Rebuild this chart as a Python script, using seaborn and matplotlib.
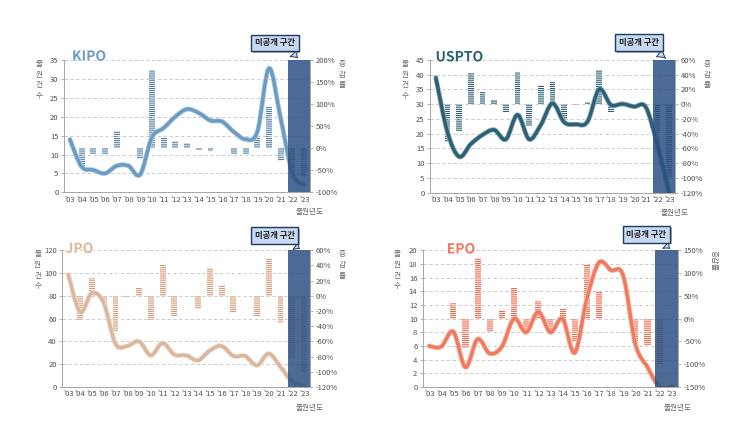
"""Patent filing counts and growth rates by office (KIPO / USPTO / JPO / EPO)."""
import matplotlib.pyplot as plt
import matplotlib.patheffects as pe
import numpy as np
import seaborn as sns
from matplotlib.path import Path
from matplotlib.patches import PathPatch

sns.set_theme(style="white")
plt.rcParams["font.family"] = ["Noto Sans CJK KR", "DejaVu Sans"]
plt.rcParams["hatch.linewidth"] = 0.8

YEARS = ["'03", "'04", "'05", "'06", "'07", "'08", "'09", "'10", "'11", "'12", "'13",
         "'14", "'15", "'16", "'17", "'18", "'19", "'20", "'21", "'22", "'23"]

# filing counts (left axis)
kipo_count = [14, 6.8, 5.9, 5.0, 7.0, 7.0, 4.7, 14.5, 17, 20, 22, 21, 19, 18.7, 16, 14, 16, 32.8, 19.5, 5, 2]
uspto_count = [39, 20.5, 12.2, 16.5, 19.6, 21.3, 18.1, 26.4, 18.1, 23, 30.3, 23.9, 23.2, 24.1, 35.1, 29.8, 30.1, 29.2, 29, 16, 0]
jpo_count = [98.6, 65.8, 82.5, 74, 38, 36, 40, 27.8, 38.6, 28.4, 27.8, 23.4, 32, 36, 27.2, 27.2, 19, 29.3, 17.6, 4.4, 1]
epo_count = [6.0, 5.9, 8.1, 2.9, 7.0, 4.9, 5.9, 10, 8.0, 11, 8, 10, 5, 12.9, 18.2, 17.1, 16.3, 6.3, 2.9, 0, 0.1]

# growth rate in % (right axis)
kipo_rate = [0, -46, -13, -13, 40, 0, -24, 178, 25, 17, 12, -3, -7, 0, -13, -13, 25, 94, -30, -67, -63]
uspto_rate = [0, -51, -36, 43, 16, 6, -11, 44, -29, 26, 30, -21, -1, 3, 47, -11, -1, -1, -1, -53, -99]
jpo_rate = [0, -32, 24, -10, -46, -2, 10, -32, 40, -26, 0, -17, 37, 14, -23, 0, -28, 50, -36, -82, -100]
epo_rate = [0, 0, 35, -64, 133, -29, 18, 67, -26, 38, -23, 22, -48, 118, 60, -1, -1, -53, -57, -99, 0]

PANELS = [
    dict(name="KIPO", count=kipo_count, rate=kipo_rate, left=(35, 5), right=(-100, 200, 50),
         line="#6a9bc3", glow="#b3cde2", bar="#4f7fa6", rect=[64, 60, 246, 132.3],
         title=(0.102, 1.025), box=(17.5, 1.13), tip=19.6, rot_label=False),
    dict(name="USPTO", count=uspto_count, rate=uspto_rate, left=(45, 5), right=(-120, 60, 20),
         line="#2d5f73", glow="#8fb0bd", bar="#2d5f73", rect=[430, 60, 245, 132.7],
         title=(0.12, 1.02), box=(17.4, 1.13), tip=19.9, rot_label=False),
    dict(name="JPO", count=jpo_count, rate=jpo_rate, left=(120, 20), right=(-120, 60, 20),
         line="#dbb79d", glow="#eedccf", bar="#d69c77", rect=[62.4, 250.3, 247.6, 136.7],
         title=(0.069, 1.01), box=(17.5, 1.108), tip=19.8, rot_label=False),
    dict(name="EPO", count=epo_count, rate=epo_rate, left=(20, 2), right=(-150, 150, 50),
         line="#ef7a5e", glow="#f8bfb1", bar="#f2694a", rect=[423, 250.3, 254.8, 136.7],
         title=(0.149, 1.006), box=(17.9, 1.116), tip=20.0, rot_label=True),
]

W, H = 755, 424
TICK_COLOR = "#505050"
LABEL_COLOR = "#6b6b6b"
SPINE_COLOR = "#a6a6a6"


def smooth_path(x, y):
    # Excel-style smoothed line drawn as cubic Bezier segments through the data points
    pts = np.column_stack([x, y]).astype(float)
    n = len(pts)
    verts, codes = [pts[0]], [Path.MOVETO]
    for i in range(n - 1):
        p0, p1 = pts[max(i - 1, 0)], pts[i]
        p2, p3 = pts[i + 1], pts[min(i + 2, n - 1)]
        verts += [p1 + (p2 - p0) / 6, p2 - (p3 - p1) / 6, p2]
        codes += [Path.CURVE4] * 3
    return Path(verts, codes)


fig = plt.figure(figsize=(W / 100, H / 100), dpi=100)

for p in PANELS:
    l, t, w, h = p["rect"]
    ax = fig.add_axes([l / W, 1 - (t + h) / H, w / W, h / H])
    ax2 = ax.twinx()

    # growth-rate bars, horizontal-stripe fill
    sns.barplot(x=YEARS, y=p["rate"], ax=ax2, color="white", width=0.5,
                edgecolor=p["bar"], linewidth=0, hatch="--------", saturation=1)
    lo, hi, step = p["right"]
    ax2.set_ylim(lo, hi)
    ax2.set_yticks(np.arange(lo, hi + 1, step))
    ax2.set_yticklabels([f"{v}%" for v in np.arange(lo, hi + 1, step)])
    ax2.set_ylabel("")

    ax.set_zorder(ax2.get_zorder() + 1)
    ax.patch.set_visible(False)

    # count line
    x = np.arange(len(YEARS))
    patch = PathPatch(smooth_path(x, p["count"]), fill=False, edgecolor=p["line"], lw=2.4,
                      capstyle="round", joinstyle="round", zorder=4,
                      path_effects=[pe.withStroke(linewidth=3.6, foreground=p["glow"])])
    ax.add_patch(patch)

    top, lstep = p["left"]
    ax.set_ylim(0, top)
    ax.set_yticks(np.arange(0, top + 0.1, lstep))
    ax.set_xlim(-0.5, len(YEARS) - 0.5)
    ax.set_xticks(x)
    ax.set_xticklabels(YEARS)
    ax.yaxis.grid(True, ls=(0, (4, 3)), color="#c4c4c4", lw=0.6)
    ax.set_axisbelow(True)

    # unpublished period
    ax.axvspan(18.6, 20.5, color="#2b5083", alpha=0.85, lw=0, zorder=6)

    for a in (ax, ax2):
        for s in a.spines.values():
            s.set_color(SPINE_COLOR)
            s.set_linewidth(0.7)
        a.spines["top"].set_visible(False)
        a.tick_params(labelsize=5.5, labelcolor=TICK_COLOR, color=SPINE_COLOR,
                      length=2.5, width=0.6, pad=1.5)
    ax.spines["right"].set_visible(False)
    ax2.spines["left"].set_visible(False)
    ax2.spines["bottom"].set_visible(False)
    ax.tick_params(axis="x", length=0, pad=2.5)
    ax.tick_params(axis="y", left=True)
    ax2.tick_params(axis="y", right=True)
    ax.set_xlabel("")
    ax2.set_xlabel("")

    ax.text(*p["title"], p["name"], transform=ax.transAxes, ha="center", va="center",
            fontsize=10, fontweight="bold", color=p["line"], zorder=7,
            path_effects=[pe.withStroke(linewidth=1.2, foreground="white")])

    ax.text(-0.1, 1.0, "출\n원\n건\n수", transform=ax.transAxes, ha="center", va="top",
            fontsize=5.5, color=LABEL_COLOR, linespacing=1.45)
    if p["rot_label"]:
        ax.text(1.14, 1.0, "증감률", transform=ax.transAxes, ha="center", va="top",
                fontsize=5.5, color=LABEL_COLOR, rotation=270)
    else:
        ax.text(1.13, 1.0, "증\n감\n률", transform=ax.transAxes, ha="center", va="top",
                fontsize=5.5, color=LABEL_COLOR, linespacing=1.45)
    ax.text(1.0, -0.15, "출원년도", transform=ax.transAxes, ha="center", va="center",
            fontsize=5.5, color=LABEL_COLOR)

    bx, by = p["box"]
    ann = ax.annotate("미공개 구간", xy=(p["tip"], 1.0), xycoords=("data", "axes fraction"),
                      xytext=(bx, by), textcoords=("data", "axes fraction"),
                      ha="center", va="center", fontsize=6, fontweight="bold", color="#1a1a1a",
                      bbox=dict(boxstyle="square,pad=0.45", fc="#c6d9f1", ec="#1f3a5f", lw=1.0),
                      arrowprops=dict(arrowstyle="wedge,tail_width=1.1,shrink_factor=0.35",
                                      fc="#c6d9f1", ec="#1f3a5f", lw=0.7, relpos=(0.82, 0.0)),
                      annotation_clip=False, zorder=10)
    ann.get_bbox_patch().set_path_effects(
        [pe.withSimplePatchShadow(offset=(1.2, -1.2), shadow_rgbFace="#7a7a7a", alpha=0.6)])

fig.savefig("out.png", dpi=100, facecolor="white")
